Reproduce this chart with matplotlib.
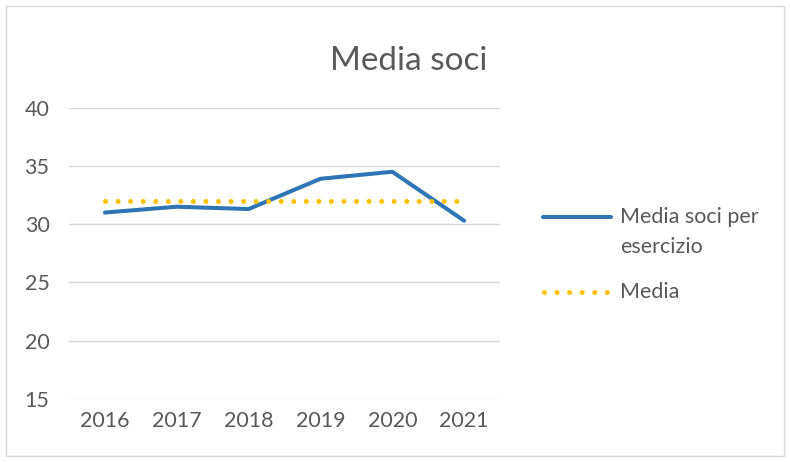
import matplotlib.pyplot as plt
from matplotlib.lines import Line2D
from matplotlib.patches import Rectangle

years = ['2016', '2017', '2018', '2019', '2020', '2021']
media_soci = [31.0, 31.5, 31.3, 33.9, 34.5, 30.3]
media = [32.0, 32.0, 32.0, 32.0, 32.0, 32.0]

plt.rcParams['font.family'] = ['Lato', 'DejaVu Sans']
grey = '#595959'
blue = '#2E75B6'
gold = '#FFC000'
dots = (0, (0.01, 2.5))

fig = plt.figure(figsize=(7.9, 4.62), dpi=100)
fig.patches.append(Rectangle((0.008, 0.012), 0.984, 0.975, transform=fig.transFigure,
                             fill=False, edgecolor='#d9d9d9', linewidth=1))
ax = fig.add_axes([0.0873, 0.1364, 0.5457, 0.6305])

x = range(len(years))
ax.plot(x, media_soci, color=blue, linewidth=2.9, solid_capstyle='round')
ax.plot(x, media, color=gold, linewidth=3.6, linestyle=dots, dash_capstyle='round')

ax.set_xlim(-0.5, 5.5)
ax.set_ylim(15, 40)
ax.set_yticks([15, 20, 25, 30, 35, 40])
ax.set_xticks(list(x))
ax.set_xticklabels(years)
ax.grid(axis='y', color='#d9d9d9', linewidth=1)
ax.set_axisbelow(True)
for s in ax.spines.values():
    s.set_visible(False)
ax.tick_params(length=0, labelsize=15.5, labelcolor=grey)
ax.tick_params(axis='y', pad=14)
ax.tick_params(axis='x', pad=9)

fig.text(0.517, 0.868, 'Media soci', ha='center', va='center', fontsize=24, color=grey)

# legend drawn by hand: Excel puts the key next to the first line of a wrapped label
fig.add_artist(Line2D([0.687, 0.774], [0.5303, 0.5303], transform=fig.transFigure,
                      color=blue, linewidth=2.9, solid_capstyle='round'))
fig.text(0.785, 0.5303, 'Media soci per', va='center', fontsize=15.5, color=grey)
fig.text(0.785, 0.4654, 'esercizio', va='center', fontsize=15.5, color=grey)
fig.add_artist(Line2D([0.688, 0.770], [0.368, 0.368], transform=fig.transFigure,
                      color=gold, linewidth=3.6, linestyle=dots, dash_capstyle='round'))
fig.text(0.785, 0.368, 'Media', va='center', fontsize=15.5, color=grey)

fig.savefig('out.png', dpi=100)
